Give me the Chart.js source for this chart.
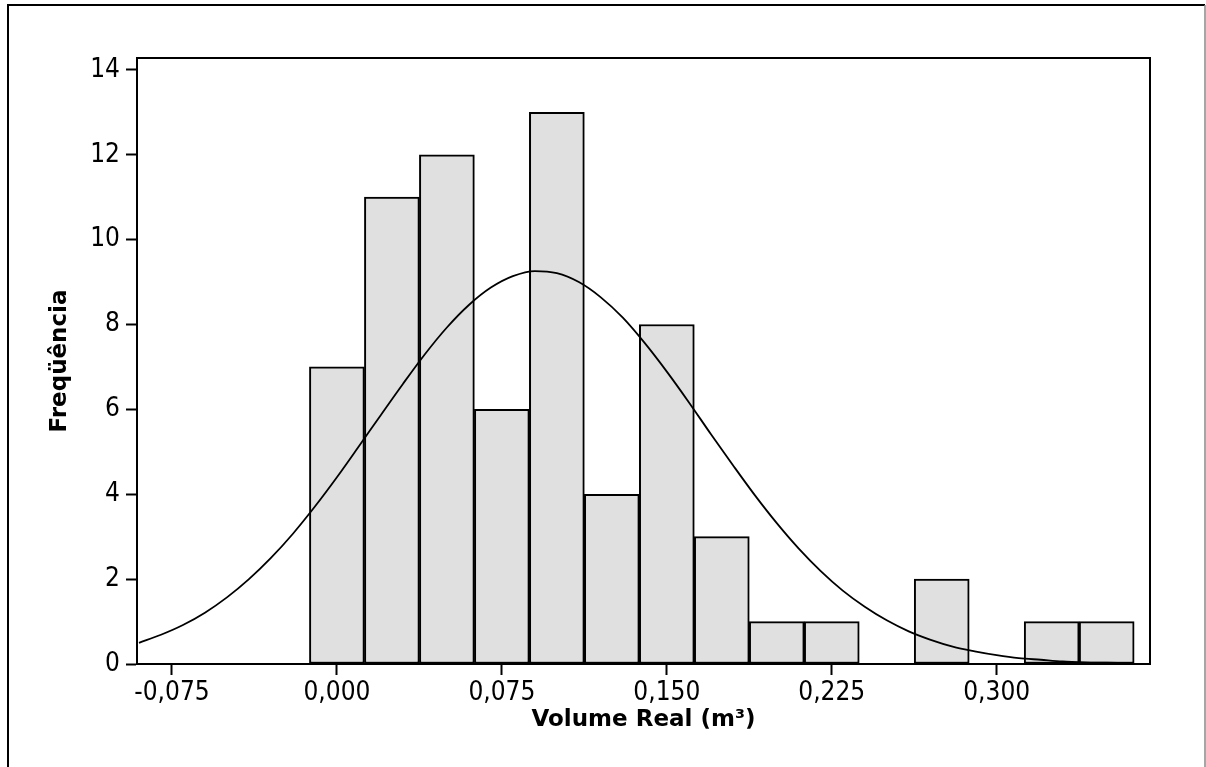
<!DOCTYPE html>
<html>
<head>
<meta charset="utf-8">
<script src="https://cdn.jsdelivr.net/npm/chart.js@4/dist/chart.umd.min.js"></script>
<style>
html,body{margin:0;padding:0;background:#fff;}
#wrap{position:relative;width:1206px;height:767px;}
</style>
</head>
<body>
<div id="wrap"><canvas id="c" width="1206" height="767"></canvas></div>
<script>
// Histogram bins (centres) and frequencies
const binCenters = [0.000, 0.025, 0.050, 0.075, 0.100, 0.125, 0.150, 0.175, 0.200, 0.225, 0.250, 0.275, 0.300, 0.325, 0.350];
const frequencies = [7, 11, 12, 6, 13, 4, 8, 3, 1, 1, 0, 2, 0, 1, 1];

// Fitted normal curve
const curveX = [-0.09,-0.08,-0.07,-0.06,-0.05,-0.04,-0.03,-0.02,-0.01,0.00,0.01,0.02,0.03,0.04,0.05,0.06,0.07,0.08,0.09,0.10,0.11,0.12,0.13,0.14,0.15,0.16,0.17,0.18,0.19,0.20,0.21,0.22,0.23,0.24,0.25,0.26,0.27,0.28,0.29,0.30,0.31,0.32,0.33,0.34,0.35,0.36];
const curveY = [0.50,0.69,0.92,1.21,1.57,2.00,2.50,3.07,3.71,4.40,5.13,5.87,6.60,7.30,7.93,8.46,8.87,9.14,9.26,9.21,9.00,8.64,8.16,7.56,6.89,6.17,5.42,4.69,3.98,3.32,2.72,2.19,1.73,1.35,1.03,0.77,0.57,0.41,0.30,0.21,0.14,0.10,0.06,0.04,0.03,0.02];

// Tick labels
const xTickValues = [-0.075, 0.000, 0.075, 0.150, 0.225, 0.300];
const yTickValues = [0, 2, 4, 6, 8, 10, 12, 14];

const xTitle = 'Volume Real (m³)';
const yTitle = 'Freqüência';

const frame = {
  id: 'frame',
  beforeDraw(chart) {
    const ctx = chart.ctx;
    ctx.save();
    ctx.fillStyle = '#fff';
    ctx.fillRect(0, 0, chart.width, chart.height);
    ctx.strokeStyle = '#000';
    ctx.lineWidth = 2;
    ctx.beginPath();
    ctx.moveTo(8, 800); ctx.lineTo(8, 5); ctx.lineTo(1205, 5);
    ctx.stroke();
    ctx.strokeStyle = '#888';
    ctx.lineWidth = 1.5;
    ctx.beginPath();
    ctx.moveTo(1205, 5); ctx.lineTo(1205, 800);
    ctx.stroke();
    ctx.restore();
  },
  afterDraw(chart) {
    const a = chart.chartArea, ctx = chart.ctx;
    ctx.save();
    ctx.strokeStyle = '#000';
    ctx.lineWidth = 2;
    ctx.strokeRect(a.left, a.top, a.right - a.left, a.bottom - a.top);
    ctx.restore();
  }
};

const fmt = v => v.toFixed(3).replace('.', ',');

new Chart(document.getElementById('c'), {
  data: {
    datasets: [
      {
        type: 'line',
        data: curveX.map((x, i) => ({x: x, y: curveY[i]})),
        borderColor: '#000',
        borderWidth: 1.8,
        pointRadius: 0,
        cubicInterpolationMode: 'monotone',
        fill: false,
        order: 0
      },
      {
        type: 'bar',
        data: binCenters.map((x, i) => ({x: x, y: frequencies[i]})),
        backgroundColor: '#e0e0e0',
        borderColor: '#000',
        borderWidth: 2,
        borderSkipped: false,
        barPercentage: 1,
        categoryPercentage: 1,
        order: 1
      }
    ]
  },
  plugins: [frame],
  options: {
    responsive: false,
    animation: false,
    events: [],
    layout: { padding: { left: 0, top: 58, right: 56, bottom: 0 } },
    plugins: { legend: { display: false }, tooltip: { enabled: false } },
    scales: {
      x: {
        type: 'linear',
        min: -0.0909,
        max: 0.3697,
        offset: false,
        afterBuildTicks: s => { s.ticks = xTickValues.map(v => ({value: v})); },
        afterFit: s => { s.height = 103; },
        grid: { display: true, offset: false, drawOnChartArea: false, drawTicks: true, tickLength: 11, tickColor: '#000', tickWidth: 2 },
        border: { display: true, color: '#000', width: 2 },
        ticks: {
          autoSkip: false, maxRotation: 0, padding: 3,
          color: '#000',
          font: { family: '"DejaVu Sans Condensed", "DejaVu Sans", sans-serif', size: 26 },
          callback: v => fmt(v)
        },
        title: {
          display: true, text: xTitle, color: '#000',
          font: { family: '"DejaVu Sans", sans-serif', size: 23, weight: 'bold' },
          padding: { top: 0, bottom: 33 }
        }
      },
      y: {
        type: 'linear',
        min: 0,
        max: 14.28,
        afterBuildTicks: s => { s.ticks = yTickValues.map(v => ({value: v})); },
        afterFit: s => { s.width = 137; },
        grid: { display: true, offset: false, drawOnChartArea: false, drawTicks: true, tickLength: 11, tickColor: '#000', tickWidth: 2 },
        border: { display: true, color: '#000', width: 2 },
        ticks: {
          autoSkip: false, padding: 6,
          color: '#000',
          font: { family: '"DejaVu Sans Condensed", "DejaVu Sans", sans-serif', size: 26 },
          callback: v => String(v)
        },
        title: {
          display: true, text: yTitle, color: '#000',
          font: { family: '"DejaVu Sans", sans-serif', size: 23, weight: 'bold' },
          padding: { top: 46, bottom: 0 }
        }
      }
    }
  }
});
</script>
</body>
</html>
